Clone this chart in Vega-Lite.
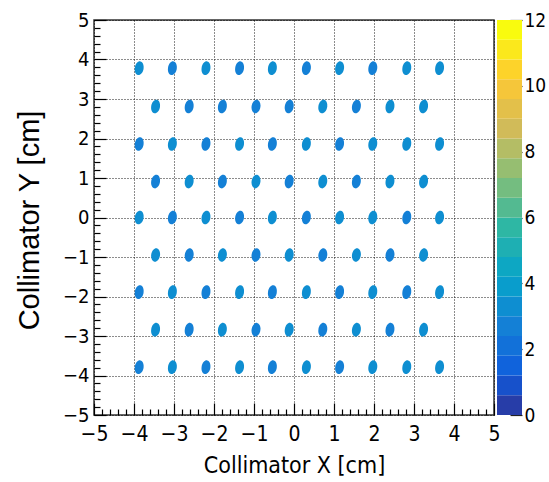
{
  "$schema": "https://vega.github.io/schema/vega-lite/v6.json",
  "background": "white",
  "padding": {"left": 14, "top": 9, "right": 5, "bottom": 5},
  "bounds": "flush",
  "config": {"font": "'Liberation Sans Narrow', 'DejaVu Sans Condensed', 'Liberation Sans', sans-serif", "concat": {"spacing": 3}},
  "datasets": {
    "spots": [
      {"x": -3.87, "y": 3.78, "n": 3.1}, {"x": -3.04, "y": 3.78, "n": 2.9}, {"x": -2.2, "y": 3.78, "n": 3.1}, {"x": -1.36, "y": 3.78, "n": 2.9}, {"x": -0.54, "y": 3.78, "n": 3.1}, {"x": 0.31, "y": 3.78, "n": 2.9}, {"x": 1.14, "y": 3.78, "n": 3.1}, {"x": 1.97, "y": 3.78, "n": 2.8}, {"x": 2.82, "y": 3.78, "n": 3.1}, {"x": 3.64, "y": 3.78, "n": 3.2},
      {"x": -3.46, "y": 2.81, "n": 3.1}, {"x": -2.62, "y": 2.81, "n": 2.9}, {"x": -1.79, "y": 2.81, "n": 2.9}, {"x": -0.95, "y": 2.81, "n": 2.8}, {"x": -0.12, "y": 2.81, "n": 2.9}, {"x": 0.72, "y": 2.81, "n": 3.1}, {"x": 1.56, "y": 2.81, "n": 2.9}, {"x": 2.4, "y": 2.81, "n": 3.1}, {"x": 3.24, "y": 2.81, "n": 3.2},
      {"x": -3.87, "y": 1.86, "n": 2.9}, {"x": -3.04, "y": 1.86, "n": 3.1}, {"x": -2.2, "y": 1.86, "n": 2.9}, {"x": -1.36, "y": 1.86, "n": 3.1}, {"x": -0.54, "y": 1.86, "n": 2.9}, {"x": 0.31, "y": 1.86, "n": 3.1}, {"x": 1.14, "y": 1.86, "n": 2.9}, {"x": 1.97, "y": 1.86, "n": 3.1}, {"x": 2.82, "y": 1.86, "n": 3.2}, {"x": 3.64, "y": 1.86, "n": 3.1},
      {"x": -3.46, "y": 0.91, "n": 2.9}, {"x": -2.62, "y": 0.91, "n": 3.1}, {"x": -1.79, "y": 0.91, "n": 2.9}, {"x": -0.95, "y": 0.91, "n": 3.1}, {"x": -0.12, "y": 0.91, "n": 2.9}, {"x": 0.72, "y": 0.91, "n": 3.1}, {"x": 1.56, "y": 0.91, "n": 2.9}, {"x": 2.4, "y": 0.91, "n": 3.1}, {"x": 3.24, "y": 0.91, "n": 3.2},
      {"x": -3.87, "y": 0.0, "n": 3.1}, {"x": -3.04, "y": 0.0, "n": 2.9}, {"x": -2.2, "y": 0.0, "n": 3.1}, {"x": -1.36, "y": 0.0, "n": 2.9}, {"x": -0.54, "y": 0.0, "n": 3.1}, {"x": 0.31, "y": 0.0, "n": 2.9}, {"x": 1.14, "y": 0.0, "n": 3.1}, {"x": 1.97, "y": 0.0, "n": 3.1}, {"x": 2.82, "y": 0.0, "n": 2.8}, {"x": 3.64, "y": 0.0, "n": 3.1},
      {"x": -3.46, "y": -0.95, "n": 3.1}, {"x": -2.62, "y": -0.95, "n": 2.9}, {"x": -1.79, "y": -0.95, "n": 3.1}, {"x": -0.95, "y": -0.95, "n": 2.8}, {"x": -0.12, "y": -0.95, "n": 3.1}, {"x": 0.72, "y": -0.95, "n": 2.9}, {"x": 1.56, "y": -0.95, "n": 3.1}, {"x": 2.4, "y": -0.95, "n": 2.9}, {"x": 3.24, "y": -0.95, "n": 3.2},
      {"x": -3.87, "y": -1.89, "n": 2.9}, {"x": -3.04, "y": -1.89, "n": 3.1}, {"x": -2.2, "y": -1.89, "n": 2.9}, {"x": -1.36, "y": -1.89, "n": 3.1}, {"x": -0.54, "y": -1.89, "n": 2.9}, {"x": 0.31, "y": -1.89, "n": 3.1}, {"x": 1.14, "y": -1.89, "n": 2.9}, {"x": 1.97, "y": -1.89, "n": 3.1}, {"x": 2.82, "y": -1.89, "n": 2.9}, {"x": 3.64, "y": -1.89, "n": 3.2},
      {"x": -3.46, "y": -2.84, "n": 3.1}, {"x": -2.62, "y": -2.84, "n": 2.9}, {"x": -1.79, "y": -2.84, "n": 3.1}, {"x": -0.95, "y": -2.84, "n": 2.9}, {"x": -0.12, "y": -2.84, "n": 3.1}, {"x": 0.72, "y": -2.84, "n": 2.9}, {"x": 1.56, "y": -2.84, "n": 3.1}, {"x": 2.4, "y": -2.84, "n": 2.9}, {"x": 3.24, "y": -2.84, "n": 3.2},
      {"x": -3.87, "y": -3.79, "n": 2.9}, {"x": -3.04, "y": -3.79, "n": 3.1}, {"x": -2.2, "y": -3.79, "n": 2.9}, {"x": -1.36, "y": -3.79, "n": 3.1}, {"x": -0.54, "y": -3.79, "n": 2.9}, {"x": 0.31, "y": -3.79, "n": 3.1}, {"x": 1.14, "y": -3.79, "n": 2.9}, {"x": 1.97, "y": -3.79, "n": 3.1}, {"x": 2.82, "y": -3.79, "n": 3.2}, {"x": 3.64, "y": -3.79, "n": 3.1}
    ],
    "palette": [
      {"lo": 0.0, "hi": 0.6, "mid": 0.3}, {"lo": 0.6, "hi": 1.2, "mid": 0.9}, {"lo": 1.2, "hi": 1.8, "mid": 1.5}, {"lo": 1.8, "hi": 2.4, "mid": 2.1},
      {"lo": 2.4, "hi": 3.0, "mid": 2.7}, {"lo": 3.0, "hi": 3.6, "mid": 3.3}, {"lo": 3.6, "hi": 4.2, "mid": 3.9}, {"lo": 4.2, "hi": 4.8, "mid": 4.5},
      {"lo": 4.8, "hi": 5.4, "mid": 5.1}, {"lo": 5.4, "hi": 6.0, "mid": 5.7}, {"lo": 6.0, "hi": 6.6, "mid": 6.3}, {"lo": 6.6, "hi": 7.2, "mid": 6.9},
      {"lo": 7.2, "hi": 7.8, "mid": 7.5}, {"lo": 7.8, "hi": 8.4, "mid": 8.1}, {"lo": 8.4, "hi": 9.0, "mid": 8.7}, {"lo": 9.0, "hi": 9.6, "mid": 9.3},
      {"lo": 9.6, "hi": 10.2, "mid": 9.9}, {"lo": 10.2, "hi": 10.8, "mid": 10.5}, {"lo": 10.8, "hi": 11.4, "mid": 11.1}, {"lo": 11.4, "hi": 12.0, "mid": 11.7}
    ]
  },
  "hconcat": [
    {
      "width": 400,
      "height": 395,
      "view": {"stroke": "#333", "strokeWidth": 1.5},
      "data": {"name": "spots"},
      "layer": [
        {
          "mark": {"type": "point", "filled": true, "shape": "M0,-1C0.353,-1,0.64,-0.552,0.64,0C0.64,0.552,0.353,1,0,1C-0.353,1,-0.64,0.552,-0.64,0C-0.64,-0.552,-0.353,-1,0,-1Z", "size": 190, "angle": 10, "opacity": 1, "strokeWidth": 0},
          "encoding": {
            "x": {"field": "x", "type": "quantitative",
              "scale": {"domain": [-5, 5], "nice": false, "zero": false},
              "axis": {"orient": "bottom", "values": [-5, -4, -3, -2, -1, 0, 1, 2, 3, 4, 5], "tickSize": -12, "tickColor": "#000", "tickWidth": 1.2, "domain": false,
                "grid": true, "gridDash": [1, 2], "gridColor": "#000", "gridOpacity": 0.9, "gridWidth": 1,
                "labelFontSize": 21, "labelColor": "#000", "labelPadding": 20, "labelFlush": false, "labelOverlap": false,
                "title": "Collimator X [cm]", "titleFontSize": 23, "titleFontWeight": "normal", "titleColor": "#000",
                "titleX": 200, "titleY": 57, "titleBaseline": "alphabetic", "titleAlign": "center"}},
            "y": {"field": "y", "type": "quantitative",
              "scale": {"domain": [-5, 5], "nice": false, "zero": false},
              "axis": {"orient": "left", "values": [-5, -4, -3, -2, -1, 0, 1, 2, 3, 4, 5], "tickSize": -12, "tickColor": "#000", "tickWidth": 1.2, "domain": false,
                "grid": true, "gridDash": [1, 2], "gridColor": "#000", "gridOpacity": 0.9, "gridWidth": 1,
                "labelFontSize": 20, "labelColor": "#000", "labelPadding": 17, "labelFlush": false, "labelOverlap": false,
                "title": "Collimator Y [cm]", "titleFont": "Liberation Sans", "titleFontSize": 29, "titleFontWeight": "normal", "titleColor": "#000",
                "titleX": -56, "titleY": 200, "titleAngle": -90, "titleBaseline": "alphabetic", "titleAlign": "center"}},
            "color": {"field": "n", "type": "quantitative",
              "scale": {"type": "quantize", "domain": [0, 12], "nice": false,
                "range": ["#273da8", "#1751cb", "#1063dc", "#1271d9", "#1480d6", "#0e8ed1", "#099dcc", "#0da7c3", "#1eafb3", "#2eb7a4", "#53ba91", "#74bd80", "#96be71", "#b4bd65", "#d1bb59", "#e3c04a", "#f5c63a", "#fdd32a", "#fbe81c", "#f9fb0e"]},
              "legend": null}
          }
        },
        {
          "mark": {"type": "point", "opacity": 0},
          "encoding": {
            "x": {"field": "x", "type": "quantitative",
              "axis": {"orient": "bottom", "values": [-4.8, -4.6, -4.4, -4.2, -3.8, -3.6, -3.4, -3.2, -2.8, -2.6, -2.4, -2.2, -1.8, -1.6, -1.4, -1.2, -0.8, -0.6, -0.4, -0.2, 0.2, 0.4, 0.6, 0.8, 1.2, 1.4, 1.6, 1.8, 2.2, 2.4, 2.6, 2.8, 3.2, 3.4, 3.6, 3.8, 4.2, 4.4, 4.6, 4.8],
                "tickSize": -6, "tickColor": "#000", "tickWidth": 1.2, "domain": false, "grid": false, "labels": false, "title": null}},
            "y": {"field": "y", "type": "quantitative",
              "axis": {"orient": "left", "values": [-4.8, -4.6, -4.4, -4.2, -3.8, -3.6, -3.4, -3.2, -2.8, -2.6, -2.4, -2.2, -1.8, -1.6, -1.4, -1.2, -0.8, -0.6, -0.4, -0.2, 0.2, 0.4, 0.6, 0.8, 1.2, 1.4, 1.6, 1.8, 2.2, 2.4, 2.6, 2.8, 3.2, 3.4, 3.6, 3.8, 4.2, 4.4, 4.6, 4.8],
                "tickSize": -6, "tickColor": "#000", "tickWidth": 1.2, "domain": false, "grid": false, "labels": false, "title": null}}
          }
        }
      ],
      "resolve": {"axis": {"x": "independent", "y": "independent"}}
    },
    {
      "width": 25,
      "height": 395,
      "view": {"stroke": null},
      "data": {"name": "palette"},
      "mark": {"type": "rect"},
      "encoding": {
        "y": {"field": "lo", "type": "quantitative",
          "scale": {"domain": [0, 12], "nice": false, "zero": false},
          "axis": {"orient": "right", "values": [0, 2, 4, 6, 8, 10, 12], "tickSize": -12, "tickColor": "#222", "tickWidth": 1.2, "domain": false, "grid": false,
            "labelFontSize": 19, "labelColor": "#000", "labelPadding": 14, "labelFlush": false, "labelOverlap": false, "title": null}},
        "y2": {"field": "hi"},
        "color": {"field": "mid", "type": "quantitative",
          "scale": {"type": "quantize", "domain": [0, 12], "nice": false,
            "range": ["#273da8", "#1751cb", "#1063dc", "#1271d9", "#1480d6", "#0e8ed1", "#099dcc", "#0da7c3", "#1eafb3", "#2eb7a4", "#53ba91", "#74bd80", "#96be71", "#b4bd65", "#d1bb59", "#e3c04a", "#f5c63a", "#fdd32a", "#fbe81c", "#f9fb0e"]},
          "legend": null}
      }
    }
  ]
}
